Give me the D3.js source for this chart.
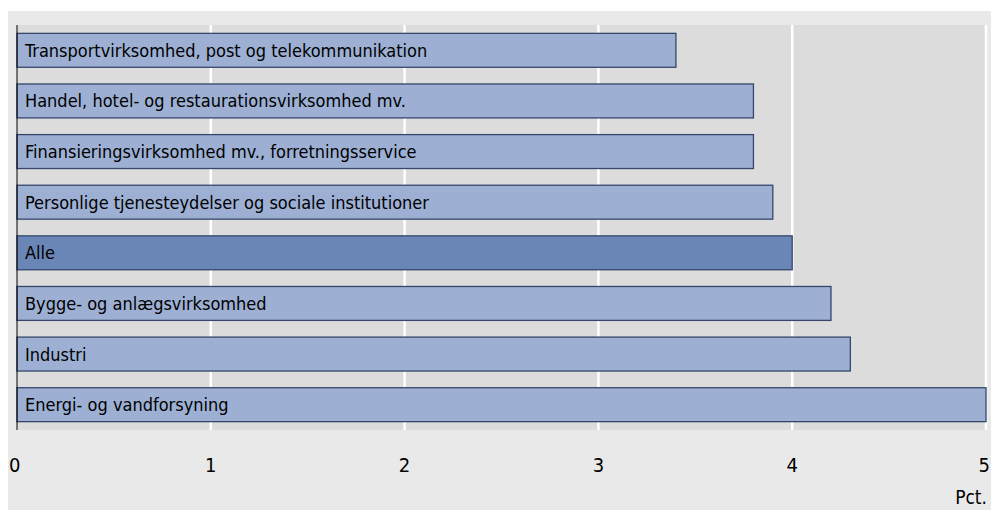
<!DOCTYPE html>
<html>
<head>
<meta charset="utf-8">
<script src="https://cdn.jsdelivr.net/npm/d3@7"></script>
<style>
  body { margin: 0; background: #ffffff; }
  svg { display: block; }
</style>
</head>
<body>
<script>
// Categories (top to bottom) and their values in pct.
const categories = [
  "Transportvirksomhed, post og telekommunikation",
  "Handel, hotel- og restaurationsvirksomhed mv.",
  "Finansieringsvirksomhed mv., forretningsservice",
  "Personlige tjenesteydelser og sociale institutioner",
  "Alle",
  "Bygge- og anlægsvirksomhed",
  "Industri",
  "Energi- og vandforsyning"
];
const values = [3.4, 3.8, 3.8, 3.9, 4.0, 4.2, 4.3, 5.0];
const tickValues = [0, 1, 2, 3, 4, 5];
const unitLabel = "Pct.";

const width = 991, height = 510;
const fontFamily = "'DejaVu Sans Condensed', sans-serif";

const svg = d3.select("body").append("svg")
  .attr("width", width)
  .attr("height", height);

// outer light background
svg.append("rect")
  .attr("x", 8).attr("y", 11)
  .attr("width", width - 8).attr("height", height - 11)
  .attr("fill", "#e9e9e9");

const plot = { left: 17, right: 986, top: 25, bottom: 430 };

// plot area background
svg.append("rect")
  .attr("x", plot.left).attr("y", plot.top)
  .attr("width", plot.right - plot.left + 1).attr("height", plot.bottom - plot.top)
  .attr("fill", "#dcdcdc");

const x = d3.scaleLinear().domain([0, 5]).range([plot.left, plot.right]);
const y = d3.scaleBand().domain(categories).range([plot.top, plot.bottom])
  .paddingInner(0.33).paddingOuter(0.165);

// vertical gridlines
svg.selectAll(".grid")
  .data(tickValues.filter(d => d > 0))
  .enter()
  .append("line")
  .attr("x1", d => x(d)).attr("x2", d => x(d))
  .attr("y1", plot.top).attr("y2", plot.bottom)
  .attr("stroke", "#ffffff")
  .attr("stroke-width", 2.5);

// bars
svg.selectAll(".bar")
  .data(categories)
  .enter()
  .append("rect")
  .attr("class", "bar")
  .attr("x", x(0))
  .attr("y", d => y(d))
  .attr("width", (d, i) => x(values[i]) - x(0))
  .attr("height", y.bandwidth())
  .attr("fill", d => d === "Alle" ? "#6a86b6" : "#9db0d4")
  .attr("stroke", "#34466a")
  .attr("stroke-width", 1.3);

// category labels inside the bars
svg.selectAll(".label")
  .data(categories)
  .enter()
  .append("text")
  .attr("x", x(0) + 8)
  .attr("y", d => y(d) + y.bandwidth() / 2)
  .attr("dy", "0.36em")
  .attr("font-family", fontFamily)
  .attr("font-size", 18)
  .attr("fill", "#000")
  .text(d => d);

// left axis line
svg.append("line")
  .attr("x1", plot.left).attr("x2", plot.left)
  .attr("y1", plot.top).attr("y2", plot.bottom)
  .attr("stroke", "#000")
  .attr("stroke-width", 1);

// x tick labels
svg.selectAll(".tick")
  .data(tickValues)
  .enter()
  .append("text")
  .attr("x", d => x(d))
  .attr("y", 465)
  .attr("dy", "0.36em")
  .attr("text-anchor", d => d === 0 ? "start" : (d === 5 ? "end" : "middle"))
  .attr("dx", d => d === 0 ? -8 : (d === 5 ? 4 : 0))
  .attr("font-family", fontFamily)
  .attr("font-size", 20)
  .text(d => d);

svg.append("text")
  .attr("x", 987)
  .attr("y", 497)
  .attr("dy", "0.36em")
  .attr("text-anchor", "end")
  .attr("font-family", fontFamily)
  .attr("font-size", 19)
  .text(unitLabel);
</script>
</body>
</html>
